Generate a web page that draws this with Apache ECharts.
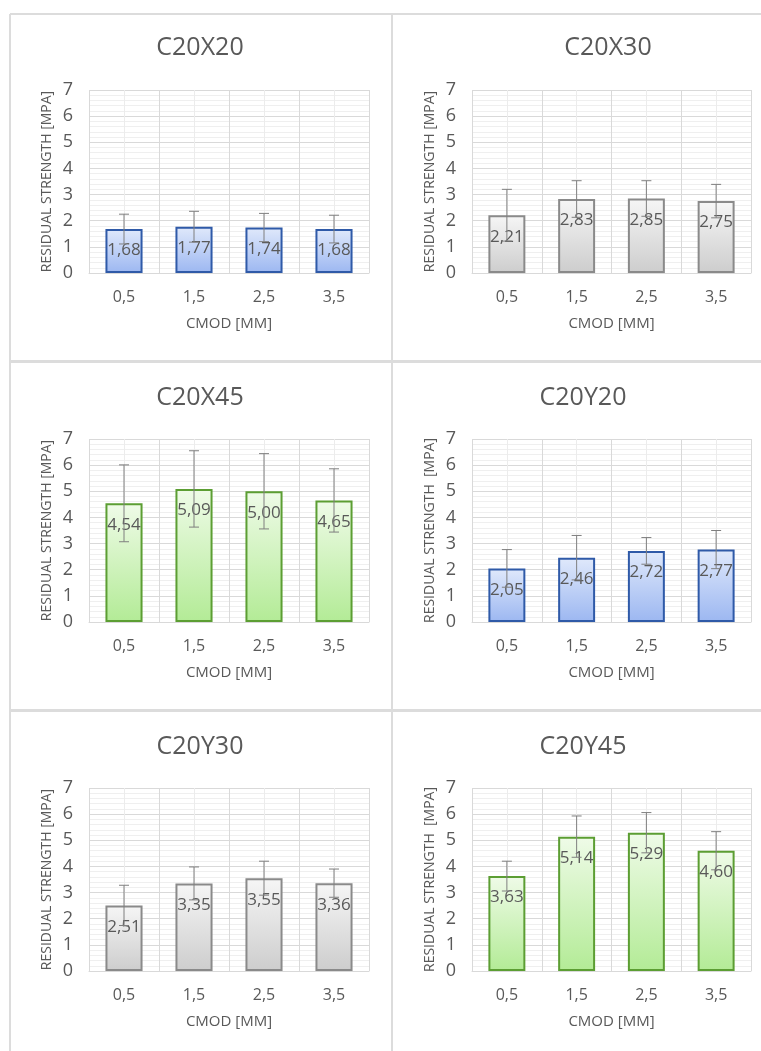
<!DOCTYPE html>
<html><head><meta charset="utf-8">
<script src="https://cdn.jsdelivr.net/npm/echarts@6/dist/echarts.min.js"></script>
<style>html,body{margin:0;padding:0;background:#fff}#c{width:761px;height:1051px}</style>
</head><body><div id="c"></div>
<script>
// ---- data ----
const categories = ['0,5', '1,5', '2,5', '3,5'];
const yTicks = [0, 1, 2, 3, 4, 5, 6, 7];
const titles = ['C20X20', 'C20X30', 'C20X45', 'C20Y20', 'C20Y30', 'C20Y45'];
const yNames = ['RESIDUAL STRENGTH [MPA]', 'RESIDUAL STRENGTH [MPA]', 'RESIDUAL STRENGTH [MPA]',
                'RESIDUAL STRENGTH  [MPA]', 'RESIDUAL STRENGTH [MPA]', 'RESIDUAL STRENGTH  [MPA]'];
const xName = 'CMOD [MM]';
const c20x20 = [1.68, 1.77, 1.74, 1.68];
const c20x20Err = [0.57, 0.59, 0.54, 0.53];
const c20x30 = [2.21, 2.83, 2.85, 2.75];
const c20x30Err = [0.99, 0.70, 0.68, 0.64];
const c20x45 = [4.54, 5.09, 5.00, 4.65];
const c20x45Err = [1.47, 1.46, 1.44, 1.21];
const c20y20 = [2.05, 2.46, 2.72, 2.77];
const c20y20Err = [0.72, 0.85, 0.51, 0.73];
const c20y30 = [2.51, 3.35, 3.55, 3.36];
const c20y30Err = [0.77, 0.63, 0.65, 0.54];
const c20y45 = [3.63, 5.14, 5.29, 4.60];
const c20y45Err = [0.57, 0.79, 0.77, 0.73];

const values = [c20x20, c20x30, c20x45, c20y20, c20y30, c20y45];
const errors = [c20x20Err, c20x30Err, c20x45Err, c20y20Err, c20y30Err, c20y45Err];
const palette = ['blue', 'gray', 'green', 'blue', 'gray', 'green'];

// ---- styles / layout ----
const FONT = 'Open Sans';
const TXT = '#595959';
const styles = {
  blue:  {top: '#e0e9fb', bottom: '#9cb7f1', border: '#2f5aa8'},
  gray:  {top: '#f6f6f6', bottom: '#cdcdcd', border: '#8a8a8a'},
  green: {top: '#effbe8', bottom: '#b3eb96', border: '#5c9e33'}
};
const grids = [
  {left: 89, top: 90, width: 280, height: 183},
  {left: 472, top: 90, width: 279, height: 183},
  {left: 89, top: 439, width: 280, height: 183},
  {left: 472, top: 439, width: 279, height: 183},
  {left: 89, top: 788, width: 280, height: 183},
  {left: 472, top: 788, width: 279, height: 183}
];
const titlePos = [[200, 48], [608, 48], [200, 398], [583, 398], [200, 747], [583, 747]];

const chart = echarts.init(document.getElementById('c'), null, {renderer: 'canvas'});
const option = {
  backgroundColor: '#fff',
  animation: false,
  grid: grids.map(g => Object.assign({containLabel: false}, g)),
  xAxis: [], yAxis: [], series: [],
  graphic: []
};

const fmt = v => v.toFixed(2).replace('.', ',');

for (let k = 0; k < 6; k++) {
  const st = styles[palette[k]];
  option.xAxis.push({
    type: 'category', gridIndex: k, data: categories, position: 'bottom',
    name: xName, nameLocation: 'middle', nameGap: 43,
    nameTextStyle: {color: TXT, fontSize: 15, fontFamily: FONT},
    axisLine: {show: true, lineStyle: {color: '#d9d9d9', width: 1}},
    axisTick: {show: false},
    axisLabel: {color: TXT, fontSize: 16, fontFamily: FONT, margin: 16},
    splitLine: {show: false}
  });
  option.xAxis.push({
    type: 'value', gridIndex: k, min: 0, max: 4, interval: 1, position: 'top',
    axisLine: {show: false}, axisTick: {show: false}, axisLabel: {show: false},
    splitLine: {show: true, lineStyle: {color: '#d9d9d9', width: 1}},
    minorTick: {show: false, splitNumber: 2},
    minorSplitLine: {show: true, lineStyle: {color: '#ececec', width: 1}}
  });
  option.yAxis.push({
    type: 'value', gridIndex: k, min: yTicks[0], max: yTicks[yTicks.length - 1], interval: 1,
    name: yNames[k], nameLocation: 'middle', nameGap: 35, nameRotate: 90,
    nameTextStyle: {color: TXT, fontSize: 14, fontFamily: FONT},
    axisLine: {show: false}, axisTick: {show: false},
    axisLabel: {color: TXT, fontSize: 18, fontFamily: FONT, margin: 16},
    splitLine: {show: true, lineStyle: {color: '#d9d9d9', width: 1}},
    minorTick: {show: false, splitNumber: 5},
    minorSplitLine: {show: true, lineStyle: {color: '#efefef', width: 1}}
  });
  option.series.push({
    type: 'bar', xAxisIndex: 2 * k, yAxisIndex: k, barWidth: '53%',
    data: values[k],
    itemStyle: {
      color: new echarts.graphic.LinearGradient(0, 0, 0, 1, [
        {offset: 0, color: st.top}, {offset: 1, color: st.bottom}
      ], false),
      borderColor: st.border, borderWidth: 2
    },
    label: {
      show: true, position: 'insideTop', distance: 13,
      color: TXT, fontSize: 17, fontFamily: FONT,
      formatter: p => fmt(p.value)
    }
  });
  option.series.push({
    type: 'custom', xAxisIndex: 2 * k, yAxisIndex: k, z: 5,
    data: values[k].map((v, i) => [i, v, errors[k][i]]),
    renderItem: (params, api) => {
      const x = api.value(0), v = api.value(1), e = api.value(2);
      const t = api.coord([x, v + e]);
      const b = api.coord([x, v - e]);
      const hw = 5;
      const ls = {stroke: '#7f7f7f', lineWidth: 1};
      return {type: 'group', children: [
        {type: 'line', shape: {x1: t[0], y1: t[1], x2: b[0], y2: b[1]}, style: ls},
        {type: 'line', shape: {x1: t[0] - hw, y1: t[1], x2: t[0] + hw, y2: t[1]}, style: ls},
        {type: 'line', shape: {x1: b[0] - hw, y1: b[1], x2: b[0] + hw, y2: b[1]}, style: ls}
      ]};
    }
  });
  option.graphic.push({
    type: 'text', x: titlePos[k][0], y: titlePos[k][1],
    style: {text: titles[k], fill: TXT, font: '25px "' + FONT + '"', align: 'center', verticalAlign: 'middle'}
  });
}

// panel frames
const frameColor = '#dcdcdc';
option.graphic.push(
  {type: 'line', shape: {x1: 10, y1: 14, x2: 761, y2: 14}, style: {stroke: frameColor, lineWidth: 2}},
  {type: 'line', shape: {x1: 10, y1: 14, x2: 10, y2: 1051}, style: {stroke: frameColor, lineWidth: 2}},
  {type: 'line', shape: {x1: 392, y1: 14, x2: 392, y2: 1051}, style: {stroke: frameColor, lineWidth: 2}},
  {type: 'line', shape: {x1: 10, y1: 361.5, x2: 761, y2: 361.5}, style: {stroke: frameColor, lineWidth: 3}},
  {type: 'line', shape: {x1: 10, y1: 710.5, x2: 761, y2: 710.5}, style: {stroke: frameColor, lineWidth: 3}}
);

chart.setOption(option);
</script>
</body></html>
